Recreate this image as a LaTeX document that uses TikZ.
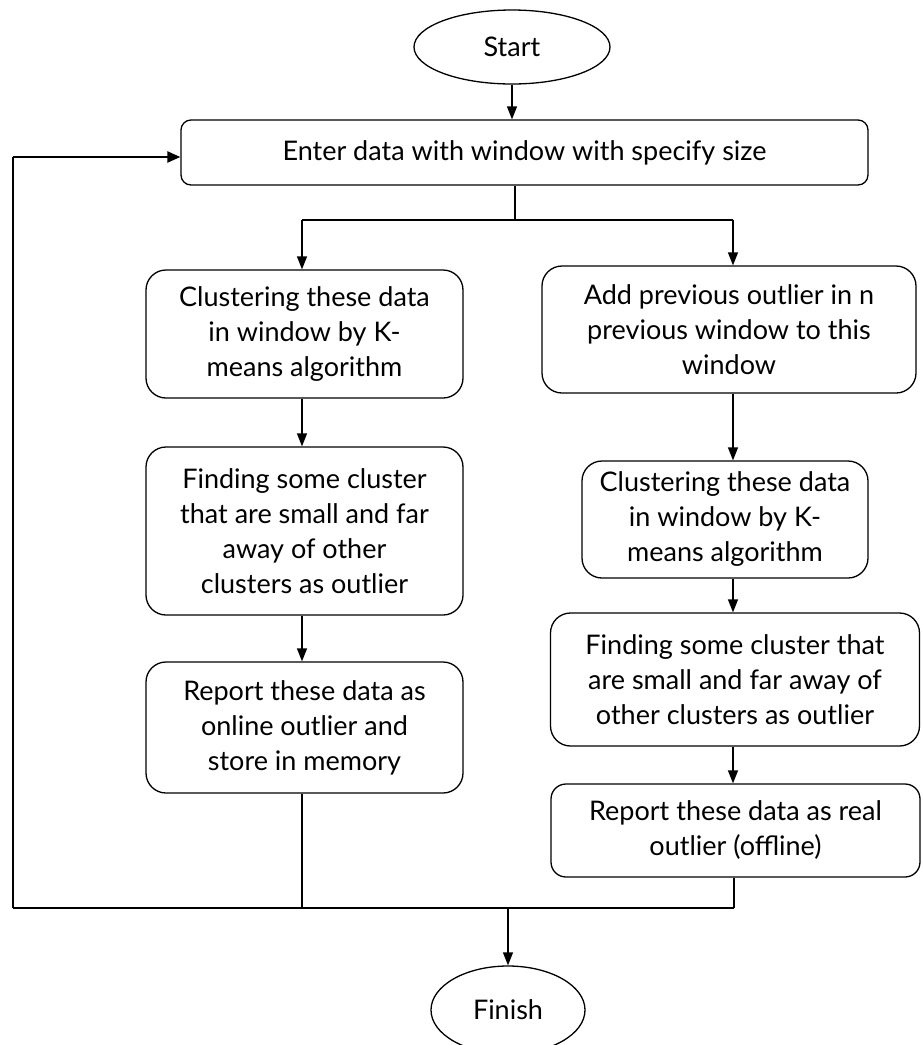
\documentclass[tikz,border=0pt]{standalone}
\usepackage{fontspec}
\setmainfont{Lato}
\usetikzlibrary{shapes.geometric,arrows.meta}
\begin{document}
\begin{tikzpicture}[x=1pt,y=-1pt,
  box/.style={draw, line width=1.3pt, rounded corners=20pt, align=center, inner sep=0pt,
    font=\fontsize{27}{35}\selectfont},
  term/.style={draw, ellipse, line width=1.3pt, inner sep=0pt, font=\fontsize{27}{35}\selectfont},
  arr/.style={-{Triangle[length=13pt,width=10pt]}, line width=1.3pt},
  ln/.style={line width=1.3pt},
  thk/.style={line width=2.2pt}]
\useasboundingbox (0,0) rectangle (922,1045);
\node[term, minimum width=196pt, minimum height=74pt] (start) at (512,47) {Start};
\node[box, rounded corners=10pt, minimum width=687pt, minimum height=65pt] (enter) at (524.5,152.5) {Enter data with window with specify size};
\node[box, minimum width=317pt, minimum height=128pt] (L1) at (304.5,334) {Clustering these data\\in window by K-\\means algorithm};
\node[box, minimum width=317pt, minimum height=168pt] (L2) at (304.5,531) {Finding some cluster\\that are small and far\\away of other\\clusters as outlier};
\node[box, minimum width=317pt, minimum height=131pt] (L3) at (304.5,727.5) {Report these data as\\online outlier and\\store in memory};
\node[box, minimum width=374pt, minimum height=127pt] (R1) at (729,329.5) {Add previous outlier in n\\previous window to this\\window};
\node[box, minimum width=286pt, minimum height=117pt] (R2) at (725,519.5) {Clustering these data\\in window by K-\\means algorithm};
\node[box, minimum width=369pt, minimum height=133pt] (R3) at (735,679.5) {Finding some cluster that\\are small and far away of\\other clusters as outlier};
\node[box, rounded corners=15pt, minimum width=369pt, minimum height=93pt] (R4) at (735.5,830.5) {Report these data as real\\outlier (offline)};
\node[term, minimum width=154pt, minimum height=88pt] (finish) at (508,1010) {Finish};
\coordinate (split) at (515,220);
\coordinate (sl) at (302,220);
\coordinate (sr) at (733,220);
\coordinate (merge) at (508,908);
\coordinate (ml) at (13,908);
\coordinate (mr) at (734,908);
\coordinate (loop) at (13,157);
\draw[arr] (start.south) -- (start.south |- enter.north);
\draw[ln] (enter.south -| split) -- (split);
\draw[thk] (sl) -- (sr);
\draw[arr] (sl) -- (sl |- L1.north);
\draw[arr] (sr) -- (sr |- R1.north);
\draw[arr] (L1.south -| sl) -- (L2.north -| sl);
\draw[arr] (L2.south -| sl) -- (L3.north -| sl);
\draw[arr] (R1.south -| sr) -- (R2.north -| sr);
\draw[arr] (R2.south -| sr) -- (R3.north -| sr);
\draw[arr] (R3.south -| sr) -- (R4.north -| sr);
\draw[ln] (L3.south -| sl) -- (ml -| sl);
\draw[ln] (R4.south -| mr) -- (mr);
\draw[thk] (ml) -- (mr);
\draw[thk] (ml) -- (loop);
\draw[thk, -{Triangle[length=13pt,width=11pt]}] (loop) -- (loop -| enter.west);
\draw[arr] (merge) -- (merge |- finish.north);
\end{tikzpicture}
\end{document}
